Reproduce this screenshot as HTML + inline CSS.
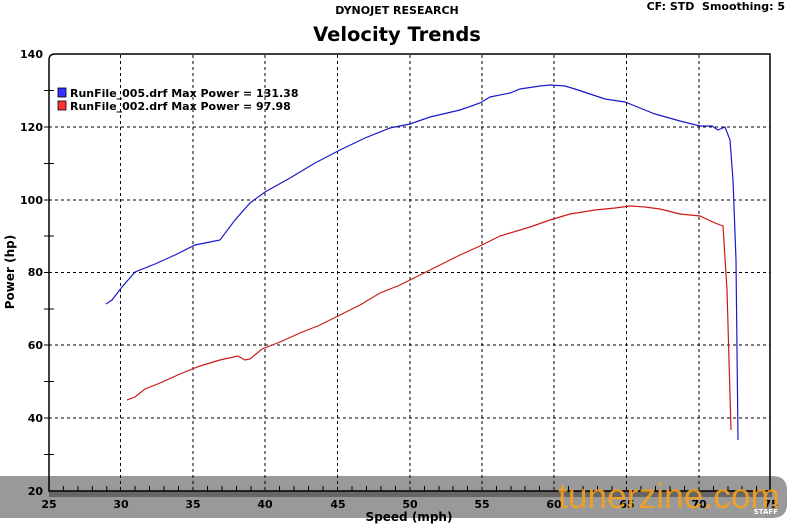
<!DOCTYPE html>
<html><head><meta charset="utf-8"><style>
html,body{margin:0;padding:0;background:#fff;}
svg{display:block;font-family:"DejaVu Sans","Liberation Sans",sans-serif;font-weight:bold;}
</style></head><body>
<svg width="795" height="524" viewBox="0 0 795 524" xmlns="http://www.w3.org/2000/svg">
<rect width="795" height="524" fill="#fff"/>
<text x="397" y="14" font-size="11" text-anchor="middle">DYNOJET RESEARCH</text>
<text x="397" y="41" font-size="19.5" text-anchor="middle">Velocity Trends</text>
<text x="785" y="10" font-size="11" text-anchor="end" xml:space="preserve">CF: STD  Smoothing: 5</text>
<text transform="translate(14,272) rotate(-90)" font-size="12" text-anchor="middle">Power (hp)</text>
<!-- banner -->
<path d="M0 476 H772 Q787 476 787 490 V504 Q787 518 772 518 H0 Z" fill="#999"/>
<rect x="49" y="491" width="723" height="6" fill="#666"/>
<!-- grid -->
<g stroke="#000" stroke-width="1" stroke-dasharray="3,3">
<line x1="120.5" y1="55" x2="120.5" y2="491"/><line x1="193" y1="55" x2="193" y2="491"/>
<line x1="265" y1="55" x2="265" y2="491"/><line x1="337.5" y1="55" x2="337.5" y2="491"/>
<line x1="410" y1="55" x2="410" y2="491"/><line x1="482" y1="55" x2="482" y2="491"/>
<line x1="554" y1="55" x2="554" y2="491"/><line x1="626.5" y1="55" x2="626.5" y2="491"/>
<line x1="699" y1="55" x2="699" y2="491"/>
<line x1="49" y1="127" x2="770" y2="127"/><line x1="49" y1="200" x2="770" y2="200"/>
<line x1="49" y1="272.5" x2="770" y2="272.5"/><line x1="49" y1="345" x2="770" y2="345"/>
<line x1="49" y1="418" x2="770" y2="418"/>
</g>
<path d="M49 491 V60 Q49 54 55 54 H770 V491 Z" fill="none" stroke="#000" stroke-width="1.5"/>
<g stroke="#000" stroke-width="1">
<line x1="44" y1="90.5" x2="54" y2="90.5"/><line x1="44" y1="163.5" x2="54" y2="163.5"/>
<line x1="44" y1="236" x2="54" y2="236"/><line x1="44" y1="309" x2="54" y2="309"/>
<line x1="44" y1="381.5" x2="54" y2="381.5"/><line x1="44" y1="454.5" x2="54" y2="454.5"/>
<line x1="44" y1="127" x2="49" y2="127"/><line x1="44" y1="200" x2="49" y2="200"/>
<line x1="44" y1="272.5" x2="49" y2="272.5"/><line x1="44" y1="345" x2="49" y2="345"/>
<line x1="44" y1="418" x2="49" y2="418"/>
</g>
<g stroke="#000" stroke-width="1">
<line x1="63.4" y1="486" x2="63.4" y2="491"/><line x1="77.9" y1="486" x2="77.9" y2="491"/><line x1="92.3" y1="486" x2="92.3" y2="491"/><line x1="106.8" y1="486" x2="106.8" y2="491"/>
<line x1="135" y1="486" x2="135" y2="491"/><line x1="149.5" y1="486" x2="149.5" y2="491"/><line x1="164" y1="486" x2="164" y2="491"/><line x1="178.5" y1="486" x2="178.5" y2="491"/>
<line x1="207.5" y1="486" x2="207.5" y2="491"/><line x1="222" y1="486" x2="222" y2="491"/><line x1="236.5" y1="486" x2="236.5" y2="491"/><line x1="251" y1="486" x2="251" y2="491"/>
<line x1="279.5" y1="486" x2="279.5" y2="491"/><line x1="294" y1="486" x2="294" y2="491"/><line x1="308.5" y1="486" x2="308.5" y2="491"/><line x1="323" y1="486" x2="323" y2="491"/>
<line x1="352" y1="486" x2="352" y2="491"/><line x1="366.5" y1="486" x2="366.5" y2="491"/><line x1="381" y1="486" x2="381" y2="491"/><line x1="395.5" y1="486" x2="395.5" y2="491"/>
<line x1="424.5" y1="486" x2="424.5" y2="491"/><line x1="439" y1="486" x2="439" y2="491"/><line x1="453" y1="486" x2="453" y2="491"/><line x1="467.5" y1="486" x2="467.5" y2="491"/>
<line x1="496.5" y1="486" x2="496.5" y2="491"/><line x1="511" y1="486" x2="511" y2="491"/><line x1="525" y1="486" x2="525" y2="491"/><line x1="539.5" y1="486" x2="539.5" y2="491"/>
<line x1="568.5" y1="486" x2="568.5" y2="491"/><line x1="583" y1="486" x2="583" y2="491"/><line x1="597.5" y1="486" x2="597.5" y2="491"/><line x1="612" y1="486" x2="612" y2="491"/>
<line x1="641" y1="486" x2="641" y2="491"/><line x1="655.5" y1="486" x2="655.5" y2="491"/><line x1="670" y1="486" x2="670" y2="491"/><line x1="684.5" y1="486" x2="684.5" y2="491"/>
<line x1="713.5" y1="486" x2="713.5" y2="491"/><line x1="728" y1="486" x2="728" y2="491"/><line x1="742" y1="486" x2="742" y2="491"/><line x1="756.5" y1="486" x2="756.5" y2="491"/>
</g>
<g font-size="11" text-anchor="end">
<text x="43" y="58">140</text><text x="43" y="131">120</text><text x="43" y="204">100</text>
<text x="43" y="276">80</text><text x="43" y="349">60</text><text x="43" y="422">40</text><text x="43" y="495">20</text>
</g>
<g font-size="11" text-anchor="middle">
<text x="49" y="508">25</text><text x="121" y="508">30</text><text x="193" y="508">35</text>
<text x="265" y="508">40</text><text x="338" y="508">45</text><text x="410" y="508">50</text>
<text x="482" y="508">55</text><text x="554" y="508">60</text><text x="627" y="508">65</text>
<text x="699" y="508">70</text><text x="771" y="508">75</text>
</g>
<text x="409" y="521" font-size="12" text-anchor="middle">Speed (mph)</text>
<!-- legend -->
<rect x="58" y="88" width="8" height="9" fill="#33f" stroke="#000" stroke-width="0.8"/>
<rect x="58" y="101" width="8" height="9" fill="#f33" stroke="#000" stroke-width="0.8"/>
<text x="70" y="97" font-size="11">RunFile_005.drf Max Power = 131.38</text>
<text x="70" y="110" font-size="11">RunFile_002.drf Max Power = 97.98</text>
<polyline fill="none" stroke="#1a1acc" stroke-width="1.2" points="106,304 112,300 122,287 135,272 155,264 175,255 195,245 210,242 220,240 235,220 250,203 265,192 290,178 315,163 340,150 365,138 390,128 410,124 430,117 460,110 480,103 490,97 510,93 520,89 540,86 550,85 565,86 575,89 590,94 605,99 625,102 640,108 655,114 680,121 700,126 712,126 718,130 725,127 730,140 733,180 736,260 738,440"/>
<polyline fill="none" stroke="#cc1a1a" stroke-width="1.2" points="127,400 135,397 145,389 160,383 180,374 200,366 220,360 238,356 245,360 250,359 262,349 280,342 300,333 320,325 340,315 360,305 380,293 400,285 420,275 440,265 460,255 480,246 500,236 530,227 550,220 570,214 595,210 615,208 630,206 645,207 660,209 680,214 700,216 715,223 723,226 727,290 731,430"/>
<text x="558" y="508" font-size="35" font-weight="normal" fill="#f5a020" opacity="0.9" font-family="Liberation Sans,sans-serif" textLength="222" lengthAdjust="spacingAndGlyphs">tunerzine.com</text>
<text x="778" y="514" font-size="7" fill="#fff" text-anchor="end">STAFF</text>
</svg>
</body></html>
